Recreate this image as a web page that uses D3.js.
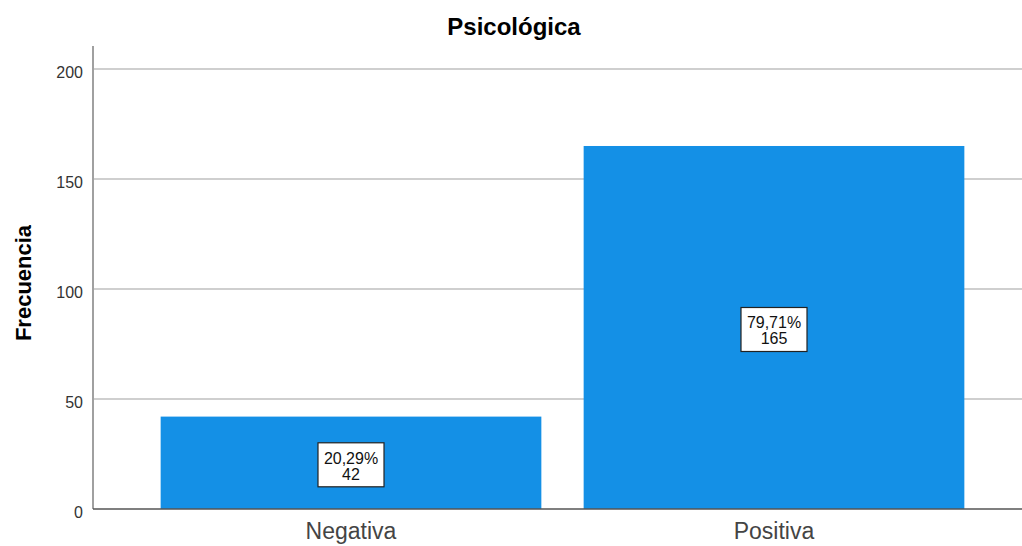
<!DOCTYPE html>
<html>
<head>
<meta charset="utf-8">
<script src="https://cdn.jsdelivr.net/npm/d3@7"></script>
<style>
  body { margin: 0; background: #fff; }
  text { font-family: "Liberation Sans", Arial, sans-serif; }
</style>
</head>
<body>
<svg width="1022" height="546"></svg>
<script>
// chart data
var categories = ['Negativa', 'Positiva'];
var counts = [42, 165];
var percents = ['20,29%', '79,71%'];
var yTicks = [0, 50, 100, 150, 200];

var svg = d3.select('svg');

// plot area edges
var plot = {l: 93, r: 1022, t: 46, b: 509};

var x = d3.scaleBand()
    .domain(categories)
    .range([139.5, 985.5])
    .paddingInner(0.1)
    .paddingOuter(0.05);

var y = d3.scaleLinear()
    .domain([0, 210.45])
    .range([plot.b, plot.t]);

// gridlines
svg.append('g').selectAll('line')
    .data(yTicks.filter(function(d) { return d > 0; }))
    .enter().append('line')
    .attr('x1', plot.l).attr('x2', plot.r)
    .attr('y1', function(d) { return y(d); })
    .attr('y2', function(d) { return y(d); })
    .attr('stroke', '#cfcfcf')
    .attr('stroke-width', 2);

// bars
svg.append('g').selectAll('rect')
    .data(counts)
    .enter().append('rect')
    .attr('x', function(d, i) { return x(categories[i]); })
    .attr('y', function(d) { return y(d); })
    .attr('width', x.bandwidth())
    .attr('height', function(d) { return y(0) - y(d); })
    .attr('fill', '#1490e6');

// y axis line
svg.append('line')
    .attr('x1', plot.l).attr('x2', plot.l)
    .attr('y1', plot.t).attr('y2', plot.b)
    .attr('stroke', '#a0a0a0').attr('stroke-width', 2);

// x baseline
svg.append('line')
    .attr('x1', plot.l).attr('x2', plot.r)
    .attr('y1', plot.b).attr('y2', plot.b)
    .attr('stroke', '#555').attr('stroke-width', 1.5);

// y tick labels
svg.append('g').selectAll('text')
    .data(yTicks)
    .enter().append('text')
    .attr('x', 83)
    .attr('y', function(d) { return y(d) + 9; })
    .attr('text-anchor', 'end')
    .style('font-size', '16px')
    .style('fill', '#333')
    .text(function(d) { return d; });

// x tick labels
svg.append('g').selectAll('text')
    .data(categories)
    .enter().append('text')
    .attr('x', function(d) { return x(d) + x.bandwidth() / 2; })
    .attr('y', 539)
    .attr('text-anchor', 'middle')
    .style('font-size', '23px')
    .style('fill', '#444')
    .text(function(d) { return d; });

// value labels in boxes
var labels = svg.append('g').selectAll('g')
    .data(counts)
    .enter().append('g')
    .attr('transform', function(d, i) {
        return 'translate(' + [x(categories[i]) + x.bandwidth() / 2, (y(d) + y(0)) / 2 + 2] + ')';
    });

labels.append('rect')
    .attr('x', -33).attr('y', -22)
    .attr('width', 66).attr('height', 44)
    .attr('fill', '#fff')
    .attr('stroke', '#222')
    .attr('stroke-width', 1.2);

labels.append('text')
    .attr('y', -1)
    .attr('text-anchor', 'middle')
    .style('font-size', '16px')
    .style('fill', '#111')
    .text(function(d, i) { return percents[i]; });

labels.append('text')
    .attr('y', 15)
    .attr('text-anchor', 'middle')
    .style('font-size', '16px')
    .style('fill', '#111')
    .text(function(d) { return d; });

// title
svg.append('text')
    .attr('x', 514)
    .attr('y', 35)
    .attr('text-anchor', 'middle')
    .style('font-size', '24px')
    .style('font-weight', 'bold')
    .text('Psicológica');

// y axis title
svg.append('text')
    .attr('transform', 'translate(31,283) rotate(-90)')
    .attr('text-anchor', 'middle')
    .style('font-size', '22px')
    .style('font-weight', 'bold')
    .text('Frecuencia');
</script>
</body>
</html>
